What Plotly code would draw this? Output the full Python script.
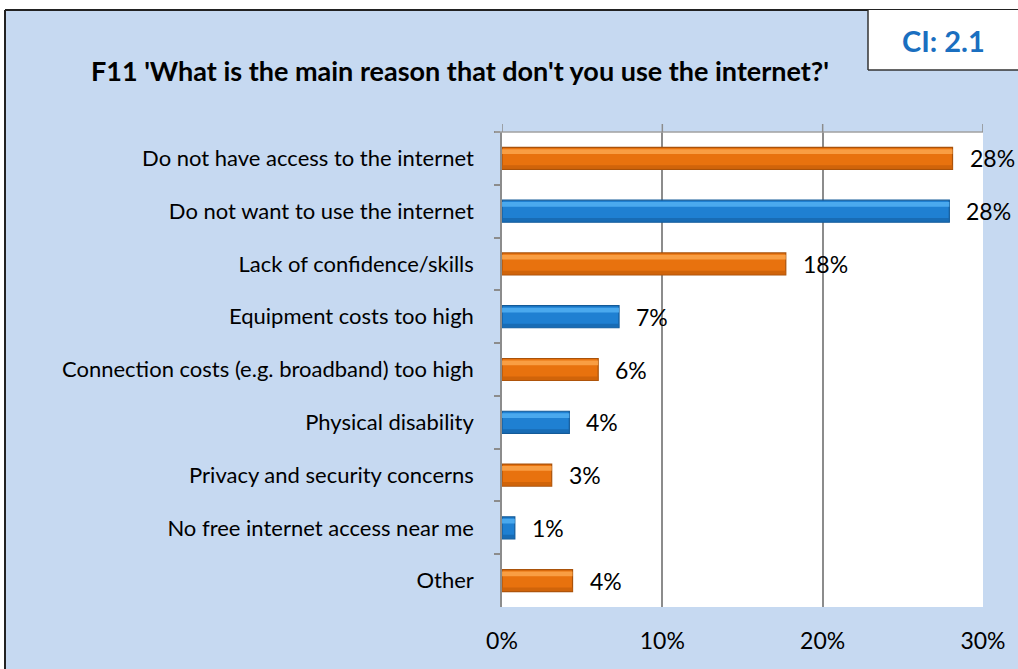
import plotly.graph_objects as go

categories = [
    "Do not have access to the internet",
    "Do not want to use the internet",
    "Lack of confidence/skills",
    "Equipment costs too high",
    "Connection costs (e.g. broadband) too high",
    "Physical disability",
    "Privacy and security concerns",
    "No free internet access near me",
    "Other",
]
values = [28.1, 27.9, 17.7, 7.3, 6.0, 4.2, 3.1, 0.8, 4.4]
labels = ["28%", "28%", "18%", "7%", "6%", "4%", "3%", "1%", "4%"]
x_ticks = [0, 10, 20, 30]
x_tick_labels = ["0%", "10%", "20%", "30%"]

title_text = "F11 'What is the main reason that don't you use the internet?'"
ci_text = "CI: 2.1"

W, H = 1018, 669
L, R, T, B = 502, 983, 132, 607

def px(xp):
    return (xp - L) / (R - L)

def py(yp):
    return (B - yp) / (B - T)

orange = dict(main="#E8720E", light="#FBA64C", shade="#C9600A", dark="#A9520A")
blue = dict(main="#1F80D2", light="#52B0F3", shade="#1767AE", dark="#135A98")
pal = [orange if i % 2 == 0 else blue for i in range(len(categories))]

font = "Lato, Open Sans, Liberation Sans, sans-serif"
grid_col = "#8C8C8C"

fig = go.Figure()
fig.add_trace(go.Bar(
    y=categories, x=values, orientation="h", width=0.417,
    marker=dict(color=[p["main"] for p in pal],
                line=dict(color=[p["dark"] for p in pal], width=1.2)),
    hoverinfo="skip", showlegend=False,
))
fig.add_trace(go.Bar(
    y=categories, x=values, orientation="h", width=0.09, offset=-0.172,
    marker=dict(color=[p["light"] for p in pal], line=dict(width=0), opacity=0.85),
    hoverinfo="skip", showlegend=False,
))
fig.add_trace(go.Bar(
    y=categories, x=values, orientation="h", width=0.072, offset=0.131,
    marker=dict(color=[p["shade"] for p in pal], line=dict(width=0), opacity=0.8),
    hoverinfo="skip", showlegend=False,
))

for c, v, t in zip(categories, values, labels):
    fig.add_annotation(x=v, y=c, text=t, showarrow=False, xanchor="left",
                       xshift=15, font=dict(size=23, color="#000000", family=font))

shapes = []
shapes.append(dict(type="rect", xref="paper", yref="paper", x0=px(-5), x1=px(W + 5),
                   y0=py(10), y1=py(-5), fillcolor="white", line=dict(width=0), layer="below"))
shapes.append(dict(type="rect", xref="paper", yref="paper", x0=px(-5), x1=px(5),
                   y0=py(H + 5), y1=py(-5), fillcolor="white", line=dict(width=0), layer="below"))
shapes.append(dict(type="line", xref="paper", yref="paper", x0=px(5), x1=px(W + 5),
                   y0=py(10), y1=py(10), line=dict(color="#222222", width=2)))
shapes.append(dict(type="line", xref="paper", yref="paper", x0=px(5), x1=px(5),
                   y0=py(10), y1=py(H + 5), line=dict(color="#222222", width=2)))
shapes.append(dict(type="rect", xref="paper", yref="paper", x0=px(868), x1=px(W + 5),
                   y0=py(70), y1=py(10), fillcolor="white", line=dict(width=0)))
shapes.append(dict(type="line", xref="paper", yref="paper", x0=px(868), x1=px(868),
                   y0=py(70), y1=py(10), line=dict(color="#333333", width=1.5)))
shapes.append(dict(type="line", xref="paper", yref="paper", x0=px(868), x1=px(W + 5),
                   y0=py(70), y1=py(70), line=dict(color="#333333", width=1.5)))
# top edge of the plot wall and gridlines poking above it
shapes.append(dict(type="line", xref="paper", yref="paper", x0=px(495), x1=1,
                   y0=1, y1=1, line=dict(color="#A0A0A0", width=1.5)))
for tv in x_ticks:
    shapes.append(dict(type="line", xref="x", yref="paper", x0=tv, x1=tv,
                       y0=1, y1=py(124), line=dict(color=grid_col, width=1.5)))

fig.add_annotation(xref="paper", yref="paper", x=px(943), y=py(41), text="<b>" + ci_text + "</b>",
                   showarrow=False, xanchor="center", yanchor="middle",
                   font=dict(size=29, color="#1A6FC0", family=font))
fig.add_annotation(xref="paper", yref="paper", x=px(460), y=py(70), text="<b>" + title_text + "</b>",
                   showarrow=False, xanchor="center", yanchor="middle",
                   font=dict(size=27, color="#000000", family=font))

fig.update_layout(
    width=W, height=H,
    margin=dict(l=L, r=W - R, t=T, b=H - B),
    paper_bgcolor="#C6D9F1",
    plot_bgcolor="white",
    barmode="overlay",
    shapes=shapes,
    font=dict(family=font, size=22, color="#000000"),
)
fig.update_xaxes(
    range=[0, 30], tickvals=x_ticks, ticktext=x_tick_labels,
    showgrid=True, gridcolor=grid_col, gridwidth=1.5, zeroline=False,
    showline=False, ticks="", ticklabelstandoff=18,
    tickfont=dict(size=23, family=font, color="#000000"),
)
fig.update_yaxes(
    autorange="reversed", showgrid=False, showline=True, linecolor=grid_col, linewidth=1.5,
    ticks="outside", tickson="boundaries", ticklen=6, tickcolor=grid_col, tickwidth=1.5,
    ticklabelstandoff=22, tickfont=dict(size=22, family=font, color="#000000"),
)

fig.write_html("out.html", config={"displayModeBar": False},
               post_script="document.body.style.margin='0';document.body.style.overflow='hidden';")
